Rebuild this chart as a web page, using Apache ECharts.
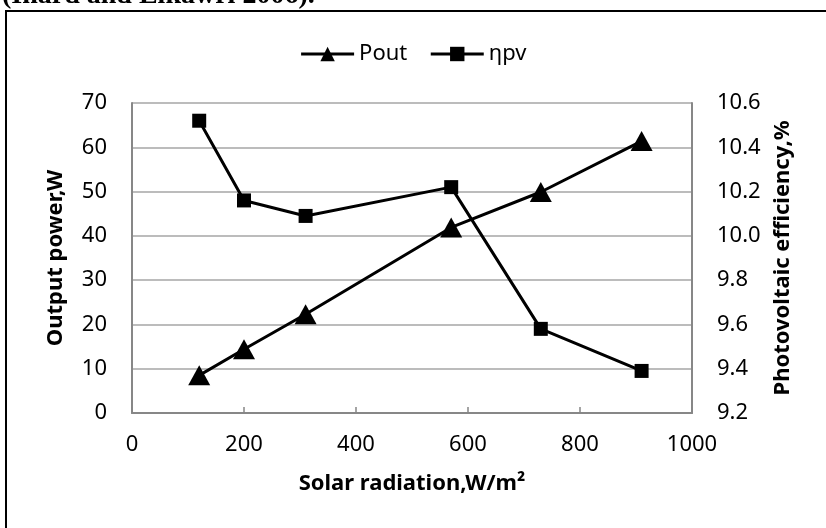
<!DOCTYPE html>
<html>
<head>
<meta charset="utf-8">
<script src="https://cdn.jsdelivr.net/npm/echarts@6/dist/echarts.min.js"></script>
<style>
  html, body { margin: 0; padding: 0; background: #fff; }
  #line-chart { width: 826px; height: 528px; }
</style>
</head>
<body>
<div id="line-chart"></div>
<script>
// 数据
var radiation = [120, 200, 310, 570, 730, 910];
var pout = [8.5, 14.4, 22.3, 41.9, 49.9, 61.4];
var etaPv = [10.52, 10.16, 10.09, 10.22, 9.58, 9.39];

var FONT = 'Noto Sans';

function pairs(xs, ys) {
  return xs.map(function (x, i) { return [x, ys[i]]; });
}

var lineChart = echarts.init(document.getElementById('line-chart'));

var titleStyle = { fontFamily: FONT, fontSize: 22, fontWeight: 'bold', color: '#000' };

var option = {
  backgroundColor: '#fff',
  animation: false,
  textStyle: { fontFamily: FONT, color: '#000' },
  grid: { left: 132, right: 134, top: 103, bottom: 115 },
  // 外框和上方被截掉的文字
  graphic: [
    {
      type: 'rect',
      shape: { x: 6, y: 11, width: 900, height: 600 },
      style: { fill: 'none', stroke: '#000', lineWidth: 2 }
    },
    {
      type: 'text',
      x: 2,
      y: 10,
      style: {
        text: '(Inard and Elkawri 2006).',
        font: 'bold 28px "Liberation Serif"',
        verticalAlign: 'bottom',
        fill: '#000'
      }
    }
  ],
  legend: {
    top: 38,
    left: 'center',
    itemWidth: 53,
    itemHeight: 18,
    itemGap: 22,
    textStyle: { fontFamily: FONT, fontSize: 22, color: '#000' },
    lineStyle: { width: 3, color: '#000' },
    data: ['Pout', 'ηpv']
  },
  xAxis: {
    type: 'value',
    min: 0,
    max: 1000,
    interval: 200,
    name: 'Solar radiation,W/m²',
    nameLocation: 'middle',
    nameGap: 60,
    nameTextStyle: titleStyle,
    axisLine: { lineStyle: { color: '#878787', width: 2 } },
    axisTick: { inside: true, length: 6, lineStyle: { color: '#878787', width: 1.5 } },
    axisLabel: {
      margin: 21, fontSize: 22, color: '#000', fontFamily: FONT,
      formatter: function (v) { return String(v); }
    },
    splitLine: { show: false }
  },
  yAxis: [
    {
      type: 'value',
      min: 0,
      max: 70,
      interval: 10,
      name: 'Output power,W',
      nameLocation: 'middle',
      nameGap: 65,
      nameTextStyle: titleStyle,
      axisLine: { show: true, lineStyle: { color: '#878787', width: 2 } },
      axisTick: { show: false },
      axisLabel: { margin: 25, fontSize: 22, color: '#000', fontFamily: FONT },
      splitLine: { lineStyle: { color: '#a6a6a6', width: 1.5 } }
    },
    {
      type: 'value',
      min: 9.2,
      max: 10.6,
      interval: 0.2,
      position: 'right',
      name: 'Photovoltaic efficiency,%',
      nameLocation: 'middle',
      nameGap: 80,
      nameTextStyle: titleStyle,
      axisLine: { show: true, lineStyle: { color: '#878787', width: 2 } },
      axisTick: { show: false },
      axisLabel: {
        margin: 25, fontSize: 22, color: '#000', fontFamily: FONT,
        formatter: function (v) { return v.toFixed(1); }
      },
      splitLine: { show: false }
    }
  ],
  series: [
    {
      name: 'Pout',
      type: 'line',
      yAxisIndex: 0,
      data: pairs(radiation, pout),
      symbol: 'triangle',
      symbolSize: [22, 20],
      itemStyle: { color: '#000' },
      lineStyle: { color: '#000', width: 3 }
    },
    {
      name: 'ηpv',
      type: 'line',
      yAxisIndex: 1,
      data: pairs(radiation, etaPv),
      symbol: 'rect',
      symbolSize: 14,
      itemStyle: { color: '#000' },
      lineStyle: { color: '#000', width: 3 }
    }
  ]
};

lineChart.setOption(option);
</script>
</body>
</html>
